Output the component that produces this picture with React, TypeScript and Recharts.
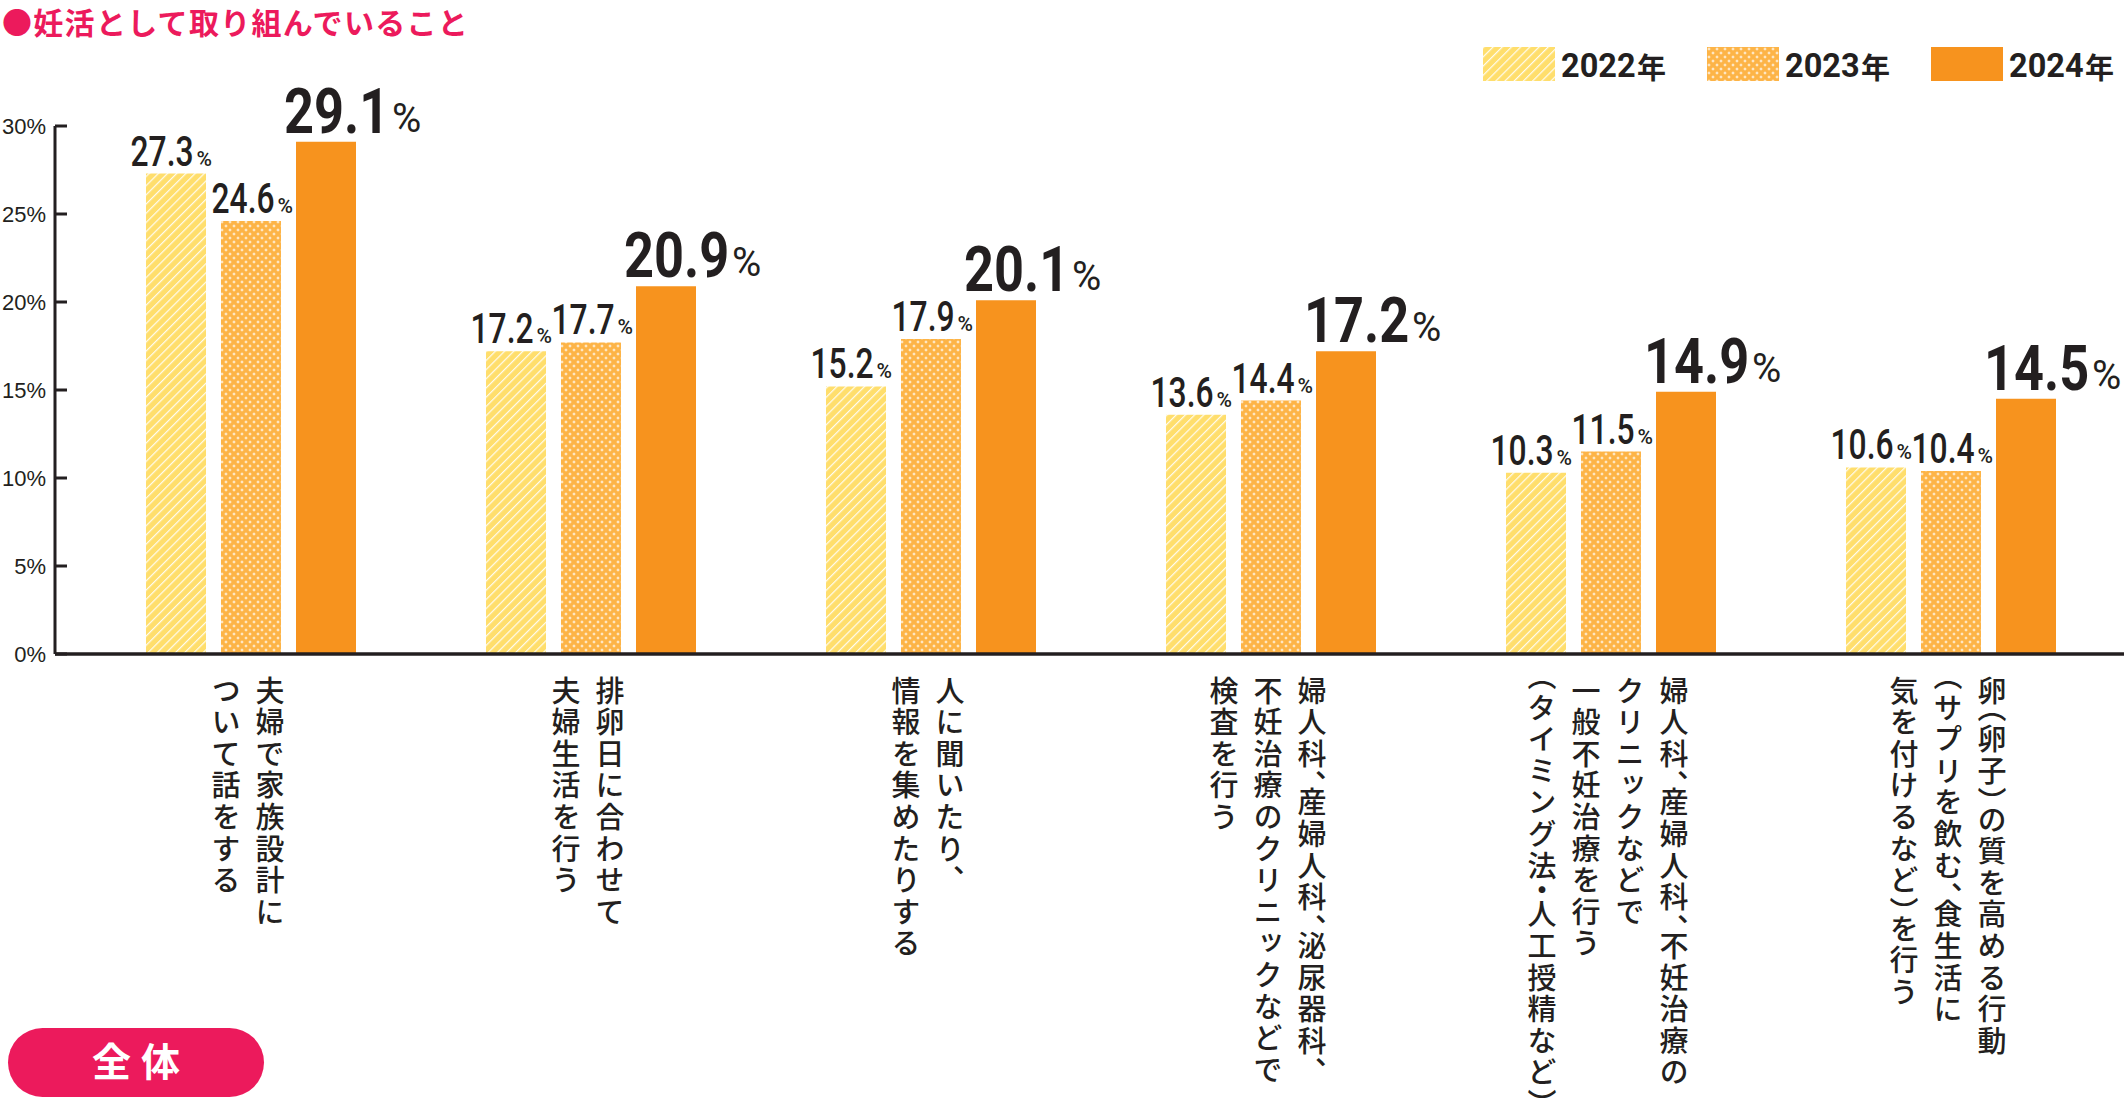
import React from 'react';
import { BarChart, Bar, XAxis, YAxis, Legend, LabelList } from 'recharts';

const chartTitle = '●妊活として取り組んでいること';
const badgeLabel = '全体';
const seriesNames = ['2022年', '2023年', '2024年'];
const categories = [
  '夫婦で家族設計について話をする',
  '排卵日に合わせて夫婦生活を行う',
  '人に聞いたり、情報を集めたりする',
  '婦人科、産婦人科、泌尿器科、不妊治療のクリニックなどで検査を行う',
  '婦人科、産婦人科、不妊治療のクリニックなどで一般不妊治療を行う（タイミング法・人工授精など）',
  '卵（卵子）の質を高める行動（サプリを飲む、食生活に気を付けるなど）を行う',
];
const categoryLines = [
  ['夫婦で家族設計に', 'ついて話をする'],
  ['排卵日に合わせて', '夫婦生活を行う'],
  ['人に聞いたり、', '情報を集めたりする'],
  ['婦人科、産婦人科、泌尿器科、', '不妊治療のクリニックなどで', '検査を行う'],
  ['婦人科、産婦人科、不妊治療の', 'クリニックなどで', '一般不妊治療を行う', '（タイミング法・人工授精など）'],
  ['卵（卵子）の質を高める行動', '（サプリを飲む、食生活に', '気を付けるなど）を行う'],
];
const values2022 = [27.3, 17.2, 15.2, 13.6, 10.3, 10.6];
const values2023 = [24.6, 17.7, 17.9, 14.4, 11.5, 10.4];
const values2024 = [29.1, 20.9, 20.1, 17.2, 14.9, 14.5];
const yTicks = [0, 5, 10, 15, 20, 25, 30];

const data = categories.map((name, i) => ({
  name,
  v2022: values2022[i],
  v2023: values2023[i],
  v2024: values2024[i],
}));

const INK = '#231F20';
const PINK = '#EC1A5C';
const YELLOW = '#FFDE6C';
const ORANGE_LIGHT = '#FDB447';
const ORANGE = '#F7931E';
const NUM_FONT = 'Roboto, "Liberation Sans", sans-serif';
const JP_FONT = '"Noto Sans CJK JP", "Noto Sans", sans-serif';
const AX_FONT = '"Liberation Sans", Arial, sans-serif';

function Patterns({ prefix }: { prefix: string }) {
  return (
    <defs>
      <pattern id={`${prefix}stripe`} patternUnits="userSpaceOnUse" width={6.5} height={6.5} patternTransform="rotate(45)">
        <rect width={6.5} height={6.5} fill={YELLOW} />
        <rect x={0} y={0} width={1.2} height={6.5} fill="#ffffff" fillOpacity={0.9} />
      </pattern>
      <pattern id={`${prefix}dots`} patternUnits="userSpaceOnUse" width={8} height={8}>
        <rect width={8} height={8} fill={ORANGE_LIGHT} />
        <path d="M2 0.6V3.4M0.6 2H3.4M6 4.6V7.4M4.6 6H7.4" stroke="#ffffff" strokeOpacity={0.85} strokeWidth={1} />
      </pattern>
    </defs>
  );
}

const fills = ['url(#c-stripe)', 'url(#c-dots)', ORANGE];
const legendFills = ['url(#lg-stripe)', 'url(#lg-dots)', ORANGE];

function getBox(p: any) {
  const vb = p.viewBox || {};
  return {
    x: Number(p.x ?? vb.x),
    y: Number(p.y ?? vb.y),
    width: Number(p.width ?? vb.width),
  };
}

// approximate natural advance of a numeric string in Roboto (em units)
function numberEm(s: string) {
  let w = 0;
  for (const ch of s) w += ch === '.' ? 0.265 : 0.5615;
  return w;
}

function CondensedNumber({ x, y, text, size, weight, width }: any) {
  const sx = width / (numberEm(text) * size);
  return (
    <text
      transform={`translate(${x} ${y}) scale(${sx} 1)`}
      fontSize={size}
      fontWeight={weight}
      fontFamily={NUM_FONT}
      fill={INK}
    >
      {text}
    </text>
  );
}

const makeSmallLabel = (dx: number) => (props: any) => {
  const { x, y, width } = getBox(props);
  const v = Number(props.value).toFixed(1);
  const total = 81;
  const left = x + width / 2 + dx - total / 2;
  const base = y - 8;
  return (
    <g>
      <CondensedNumber x={left} y={base} text={v} size={42} weight={500} width={62} />
      <text x={left + 66} y={base} fontSize={21} fontWeight={500} fontFamily={NUM_FONT} fill={INK}>%</text>
    </g>
  );
};

const BigLabel = (props: any) => {
  const { x, y, width } = getBox(props);
  const v = Number(props.value).toFixed(1);
  const left = x + width / 2 - 42;
  const base = y - 9;
  return (
    <g>
      <CondensedNumber x={left} y={base} text={v} size={63} weight={700} width={102} />
      <text x={left + 108} y={base - 1} fontSize={40} fontWeight={400} fontFamily={NUM_FONT} fill={INK}>%</text>
    </g>
  );
};

const YTick = (props: any) => {
  const { x, y, payload } = props;
  return (
    <g>
      <line x1={x + 9} x2={x + 21} y1={y} y2={y} stroke={INK} strokeWidth={3} />
      <text x={x} y={y} dy="0.36em" textAnchor="end" fontSize={22} fontFamily={AX_FONT} fill={INK}>
        {payload.value}%
      </text>
    </g>
  );
};

const XTick = (props: any) => {
  const { x, y, payload } = props;
  const idx = typeof payload.index === 'number' ? payload.index : categories.indexOf(payload.value);
  const lines = categoryLines[idx] || [String(payload.value)];
  const gap = 44;
  const n = lines.length;
  return (
    <g>
      {lines.map((line, i) => (
        <text
          key={i}
          x={x - 3 + ((n - 1) / 2) * gap - i * gap}
          y={y + 22}
          fontSize={29}
          fontWeight={500}
          letterSpacing={2.6}
          fontFamily={JP_FONT}
          fill={INK}
          style={{ writingMode: 'vertical-rl', fontFeatureSettings: '"vhal" 1' } as any}
        >
          {line}
        </text>
      ))}
    </g>
  );
};

const LegendContent = () => (
  <svg width={645} height={50} style={{ display: 'block', overflow: 'visible' }}>
    <Patterns prefix="lg-" />
    {seriesNames.map((name, i) => {
      const x0 = i * 224;
      return (
        <g key={name}>
          <rect x={x0} y={0} width={72} height={34} fill={legendFills[i]} />
          <CondensedNumber x={x0 + 78} y={30} text={name.slice(0, -1)} size={34} weight={700} width={73} />
          <text x={x0 + 154} y={32} fontSize={29} fontWeight={700} fontFamily={JP_FONT} fill={INK}>
            {name.slice(-1)}
          </text>
        </g>
      );
    })}
  </svg>
);

export default function App() {
  return (
    <div style={{ position: 'absolute', left: 0, top: 0, width: 2128, height: 1109, background: '#ffffff' }}>
      <BarChart
        width={2128}
        height={1109}
        data={data}
        margin={{ top: 126, right: 4, bottom: 0, left: 0 }}
        barGap={15}
      >
        <Patterns prefix="c-" />
        <XAxis
          dataKey="name"
          height={455}
          padding={{ left: 26, right: 3 }}
          axisLine={{ stroke: INK, strokeWidth: 3.5 }}
          tickLine={false}
          tickSize={0}
          tickMargin={0}
          interval={0}
          tick={<XTick />}
        />
        <YAxis
          type="number"
          width={55}
          domain={[0, 30]}
          ticks={yTicks}
          interval={0}
          axisLine={{ stroke: INK, strokeWidth: 3 }}
          tickLine={false}
          tickSize={0}
          tickMargin={9}
          tick={<YTick />}
        />
        <Legend
          layout="horizontal"
          verticalAlign="middle"
          align="center"
          content={<LegendContent />}
          wrapperStyle={{ position: 'absolute', left: 1483, top: 47, width: 645, height: 50 }}
        />
        <Bar dataKey="v2022" name={seriesNames[0]} fill={fills[0]} barSize={60} isAnimationActive={false}>
          <LabelList dataKey="v2022" content={makeSmallLabel(-5)} />
        </Bar>
        <Bar dataKey="v2023" name={seriesNames[1]} fill={fills[1]} barSize={60} isAnimationActive={false}>
          <LabelList dataKey="v2023" content={makeSmallLabel(1)} />
        </Bar>
        <Bar dataKey="v2024" name={seriesNames[2]} fill={fills[2]} barSize={60} isAnimationActive={false}>
          <LabelList dataKey="v2024" content={BigLabel} />
        </Bar>
      </BarChart>
      <div
        style={{
          position: 'absolute',
          left: 2,
          top: 6,
          fontSize: 30,
          lineHeight: '30px',
          fontWeight: 600,
          letterSpacing: 1.3,
          fontFamily: JP_FONT,
          color: PINK,
          whiteSpace: 'nowrap',
        }}
      >
        {chartTitle}
      </div>
      <svg
        width={300}
        height={100}
        style={{ position: 'absolute', left: 0, top: 1009, pointerEvents: 'none' }}
      >
        <rect x={8} y={19} width={256} height={69} rx={34.5} ry={34.5} fill={PINK} />
        <text x={141} y={67} textAnchor="middle" fontSize={39} fontWeight={700} letterSpacing={10}
          fontFamily={JP_FONT} fill="#ffffff">
          {badgeLabel}
        </text>
      </svg>
    </div>
  );
}
